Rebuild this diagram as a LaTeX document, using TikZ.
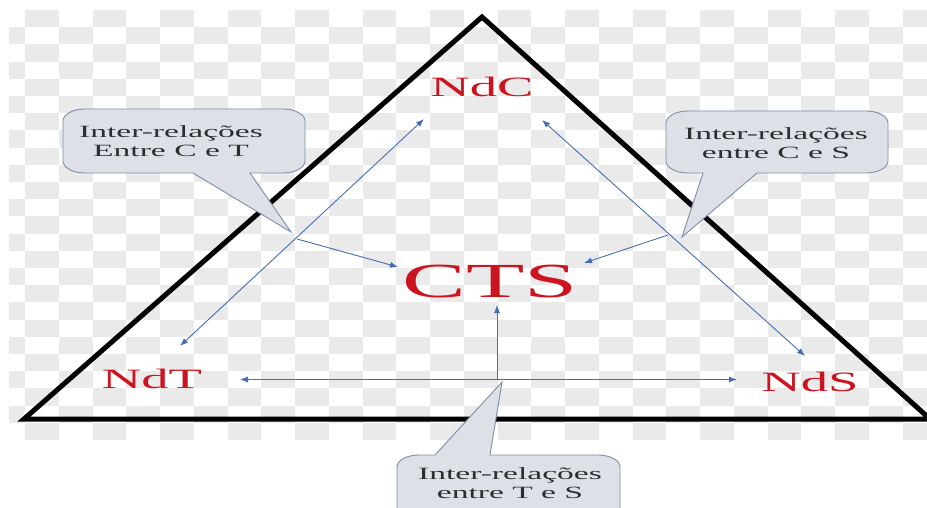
\documentclass[tikz,border=0pt]{standalone}
\usepackage{fontspec}
\setmainfont{Liberation Serif}
\newfontfamily\widefont[FakeStretch=1.95]{Liberation Serif}
\usetikzlibrary{arrows.meta}
\definecolor{chk}{RGB}{234,234,234}
\definecolor{lblred}{RGB}{204,20,32}
\definecolor{arrblue}{RGB}{68,110,180}
\definecolor{callfill}{RGB}{221,225,231}
\definecolor{calldraw}{RGB}{125,142,168}
\definecolor{calltext}{RGB}{45,45,45}
\tikzset{
 lbl/.style={text=lblred, font=\widefont\fontsize{28}{30}\selectfont, inner sep=0pt, anchor=base},
 big/.style={text=lblred, font=\widefont\fontsize{49}{51}\selectfont, inner sep=0pt, anchor=base},
 calltxt/.style={text=calltext, font=\widefont\fontsize{17.2}{19.5}\selectfont, align=center, inner sep=0pt},
 callout/.style={fill=callfill, draw=calldraw, line width=0.9pt},
 link/.style={draw=arrblue, line width=0.9pt},
 tipA/.style={-{Latex[length=8pt,width=6pt]}},
 tipAB/.style={{Latex[length=8pt,width=6pt]}-{Latex[length=8pt,width=6pt]}},
 tri/.style={draw=black, line width=5pt}
}
\begin{document}
\begin{tikzpicture}[x=1pt,y=-1pt]
\useasboundingbox (0,0) rectangle (927,508);
\fill[white] (0,0) rectangle (927,508);
% transparency checkerboard
\begin{scope}
\clip (9,10) rectangle (927,440);
\foreach \r in {0,...,24}{\foreach \k in {-1,...,26}{%
  \pgfmathtruncatemacro\p{mod(\k+\r+2,2)}%
  \ifnum\p=0 \fill[chk] ({25+33.75*\k},{10+17.2*\r}) rectangle ({25+33.75*(\k+1)},{10+17.2*(\r+1)});\fi
}}
\end{scope}
% triangle
\begin{scope}
\clip (0,0) rectangle (927,508);
\draw[tri] (24,419) -- (482,17) -- (930,419) -- cycle;
\end{scope}
% callout tips
\coordinate (tipct) at (291,232);
\coordinate (tipcs) at (682,237);
\coordinate (tipts) at (502,382);
% callouts
\begin{scope}
\clip (0,0) rectangle (927,508);
\path[callout] (85,109) -- (283,109) arc[start angle=-90,end angle=0,x radius=22,y radius=12]
  -- (305,161) arc[start angle=0,end angle=90,x radius=22,y radius=12]
  -- (250,173) -- (tipct) -- (193,173) -- (85,173)
  arc[start angle=90,end angle=180,x radius=22,y radius=12]
  -- (63,121) arc[start angle=180,end angle=270,x radius=22,y radius=12] -- cycle;
\path[callout] (688,111) -- (866,111) arc[start angle=-90,end angle=0,x radius=22,y radius=12]
  -- (888,161) arc[start angle=0,end angle=90,x radius=22,y radius=12]
  -- (757,173) -- (tipcs) -- (703,173) -- (688,173)
  arc[start angle=90,end angle=180,x radius=22,y radius=12]
  -- (666,123) arc[start angle=180,end angle=270,x radius=22,y radius=12] -- cycle;
\path[callout] (419,455) -- (435,455) -- (tipts) -- (490,455) -- (598,455)
  arc[start angle=-90,end angle=0,x radius=22,y radius=12]
  -- (620,520) -- (397,520) -- (397,467)
  arc[start angle=180,end angle=270,x radius=22,y radius=12] -- cycle;
\end{scope}
% labels
\node[lbl] (ndc) at (482,97) {NdC};
\node[big] (cts) at (490,297) {CTS};
\node[lbl] (ndt) at (152,388) {NdT};
\node[lbl] (nds) at (810,391) {NdS};
\node[calltxt] (lct) at (171,141) {Inter-relações\\Entre C e T};
\node[calltxt] (lcs) at (776,143) {Inter-relações\\entre C e S};
\node[calltxt] (lts) at (510,483) {Inter-relações\\entre T e S};
% arrow end points
\coordinate (a1s) at (424,119); \coordinate (a1e) at (180,346);
\coordinate (a2s) at (542,120); \coordinate (a2e) at (805,356);
\coordinate (a3s) at (240,379.5); \coordinate (a3e) at (737,379.5);
\coordinate (a4s) at (497,379.5); \coordinate (a4e) at (497,305);
\coordinate (a5s) at (297,239); \coordinate (a5e) at (398,267);
\coordinate (a6s) at (668,235); \coordinate (a6e) at (584,263);
% connectors
\draw[link,tipAB] (a1s) -- (a1e);
\draw[link,tipAB] (a2s) -- (a2e);
\draw[link,tipAB] (a3s) -- (a3e);
\draw[link,tipA] (a4s) -- (a4e);
\draw[link,tipA] (a5s) -- (a5e);
\draw[link,tipA] (a6s) -- (a6e);
\end{tikzpicture}
\end{document}
